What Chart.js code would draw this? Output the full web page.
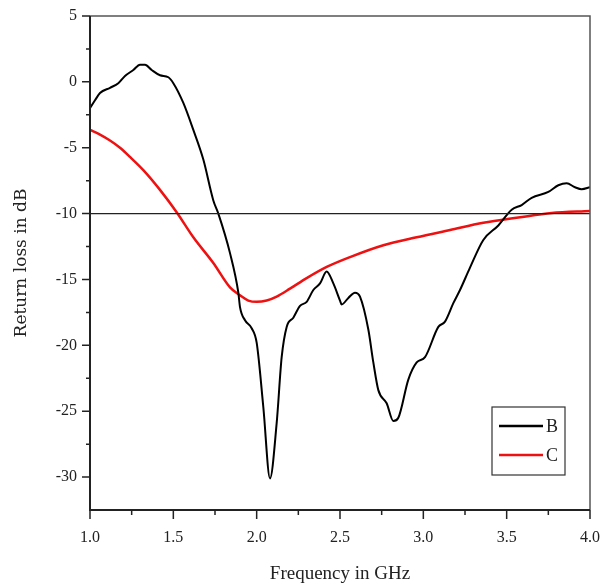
<!DOCTYPE html>
<html>
<head>
<meta charset="utf-8">
<script src="https://cdn.jsdelivr.net/npm/chart.js@4.4.1/dist/chart.umd.min.js"></script>
<style>
  html, body { margin: 0; padding: 0; background: #fff; }
  #wrap { width: 610px; height: 585px; }
</style>
</head>
<body>
<div id="wrap"><canvas id="myChart" width="610" height="585"></canvas></div>
<script>
// curve B
const freqB = [1.00, 1.03, 1.06, 1.12, 1.17, 1.21, 1.26, 1.30, 1.33, 1.37, 1.42, 1.47, 1.50, 1.56, 1.62, 1.68, 1.74, 1.77, 1.84, 1.89, 1.90, 1.93, 1.97, 2.00, 2.04, 2.08, 2.12, 2.15, 2.18, 2.22, 2.26, 2.30, 2.34, 2.38, 2.42, 2.46, 2.50, 2.51, 2.55, 2.59, 2.62, 2.67, 2.70, 2.73, 2.78, 2.82, 2.85, 2.91, 2.96, 3.01, 3.09, 3.13, 3.18, 3.22, 3.28, 3.36, 3.45, 3.53, 3.59, 3.65, 3.75, 3.81, 3.86, 3.91, 3.95, 4.00];
const lossB = [-2.0, -1.4, -0.85, -0.45, -0.1, 0.45, 0.9, 1.3, 1.3, 0.9, 0.5, 0.35, -0.1, -1.6, -3.65, -5.9, -9.0, -10.0, -13.0, -16.0, -17.1, -18.1, -18.7, -19.8, -24.7, -30.1, -25.9, -20.9, -18.6, -17.9, -17.0, -16.7, -15.8, -15.3, -14.4, -15.3, -16.6, -16.9, -16.4, -16.0, -16.3, -18.8, -21.3, -23.4, -24.4, -25.75, -25.5, -22.6, -21.3, -20.9, -18.6, -18.2, -16.8, -15.8, -14.1, -12.0, -10.9, -9.7, -9.35, -8.8, -8.35, -7.85, -7.7, -8.0, -8.15, -8.0];

// curve C
const freqC = [1.00, 1.06, 1.12, 1.18, 1.24, 1.32, 1.42, 1.52, 1.62, 1.74, 1.84, 1.90, 1.95, 2.00, 2.06, 2.12, 2.20, 2.30, 2.42, 2.56, 2.76, 2.96, 3.16, 3.36, 3.57, 3.77, 4.00];
const lossC = [-3.65, -4.0, -4.45, -5.0, -5.7, -6.7, -8.2, -9.9, -11.8, -13.75, -15.6, -16.2, -16.6, -16.7, -16.6, -16.3, -15.7, -14.9, -14.05, -13.3, -12.4, -11.8, -11.25, -10.7, -10.3, -9.95, -9.8];

// -10 dB reference line
const refFreq = [1.0, 4.0];
const refLoss = [-10, -10];

const xMajor = 0.5, xMinor = 0.25;
const yMajor = 5, yMinor = 2.5;

function toPoints(xs, ys) {
    return xs.map((x, i) => ({x: x, y: ys[i]}));
}

function isMajor(v, step) {
    return Math.abs(v / step - Math.round(v / step)) < 1e-6;
}

// frame, ticks and legend
const framePlugin = {
    id: 'frame',
    afterDraw(chart) {
        const ctx = chart.ctx;
        const a = chart.chartArea;
        const xs = chart.scales.x, ys = chart.scales.y;
        ctx.save();
        // top / right border
        ctx.strokeStyle = '#555';
        ctx.lineWidth = 1.5;
        ctx.beginPath();
        ctx.moveTo(a.left, a.top);
        ctx.lineTo(a.right, a.top);
        ctx.lineTo(a.right, a.bottom);
        ctx.stroke();
        // left / bottom axes
        ctx.strokeStyle = '#222';
        ctx.lineWidth = 2;
        ctx.beginPath();
        ctx.moveTo(a.left, a.top);
        ctx.lineTo(a.left, a.bottom);
        ctx.lineTo(a.right, a.bottom);
        ctx.stroke();
        // ticks
        ctx.lineWidth = 1.5;
        ctx.beginPath();
        for (let v = xs.min; v <= xs.max + 1e-9; v += xMinor) {
            const px = xs.getPixelForValue(v);
            const len = isMajor(v, xMajor) ? 9 : 5;
            ctx.moveTo(px, a.bottom);
            ctx.lineTo(px, a.bottom + len);
        }
        for (let v = -30; v <= ys.max + 1e-9; v += yMinor) {
            const py = ys.getPixelForValue(v);
            const len = isMajor(v, yMajor) ? 8 : 4;
            ctx.moveTo(a.left, py);
            ctx.lineTo(a.left - len, py);
        }
        ctx.stroke();

        // legend box
        const bx = a.right - 98, by = a.bottom - 103, bw = 73, bh = 68;
        ctx.fillStyle = '#fff';
        ctx.fillRect(bx, by, bw, bh);
        ctx.strokeStyle = '#333';
        ctx.lineWidth = 1.2;
        ctx.strokeRect(bx, by, bw, bh);
        ctx.font = '18px "Liberation Serif", serif';
        ctx.textBaseline = 'middle';
        ctx.textAlign = 'left';
        const items = chart.data.datasets.filter(d => d.label);
        items.forEach((d, i) => {
            const ly = by + 19 + i * 29;
            ctx.strokeStyle = d.borderColor;
            ctx.lineWidth = 2.5;
            ctx.beginPath();
            ctx.moveTo(bx + 7, ly);
            ctx.lineTo(bx + 51, ly);
            ctx.stroke();
            ctx.fillStyle = '#222';
            ctx.fillText(d.label, bx + 54, ly + 1);
        });
        ctx.restore();
    }
};

const ctx = document.getElementById('myChart').getContext('2d');

const chartRL = new Chart(ctx, {
    type: 'line',
    data: {
        datasets: [{
            label: '',
            data: toPoints(refFreq, refLoss),
            borderColor: '#222',
            borderWidth: 1.2,
            pointRadius: 0,
            tension: 0
        }, {
            label: 'B',
            data: toPoints(freqB, lossB),
            borderColor: '#000000',
            borderWidth: 2,
            pointRadius: 0,
            cubicInterpolationMode: 'monotone'
        }, {
            label: 'C',
            data: toPoints(freqC, lossC),
            borderColor: '#ee1111',
            borderWidth: 2.5,
            pointRadius: 0,
            cubicInterpolationMode: 'monotone'
        }]
    },
    plugins: [framePlugin],
    options: {
        responsive: false,
        animation: false,
        events: [],
        layout: { padding: { left: 0, top: 16, right: 15, bottom: 0 } },
        plugins: {
            legend: { display: false },
            tooltip: { enabled: false }
        },
        scales: {
            x: {
                type: 'linear',
                min: 1.0,
                max: 4.0,
                grid: { display: false },
                border: { display: false },
                afterFit: function(scale) { scale.height = 75; },
                ticks: {
                    stepSize: xMinor,
                    padding: 10,
                    color: '#222',
                    font: { family: '"Liberation Serif", serif', size: 16 },
                    maxRotation: 0,
                    autoSkip: false,
                    callback: function(v) { return isMajor(v, xMajor) ? v.toFixed(1) : ''; }
                },
                title: {
                    display: true,
                    text: 'Frequency in GHz',
                    color: '#222',
                    font: { family: '"Liberation Serif", serif', size: 19 },
                    padding: { top: 0, bottom: 0 }
                }
            },
            y: {
                min: -32.5,
                max: 5,
                grid: { display: false },
                border: { display: false },
                afterFit: function(scale) { scale.width = 90; },
                ticks: {
                    stepSize: yMinor,
                    padding: 5,
                    color: '#222',
                    font: { family: '"Liberation Serif", serif', size: 16 },
                    autoSkip: false,
                    callback: function(v) { return (isMajor(v, yMajor) && v >= -30) ? String(v) : ''; }
                },
                title: {
                    display: true,
                    text: 'Return loss in dB',
                    color: '#222',
                    font: { family: '"DejaVu Serif", serif', size: 17 },
                    padding: { top: 11, bottom: 0 }
                }
            }
        }
    }
});
</script>
</body>
</html>
